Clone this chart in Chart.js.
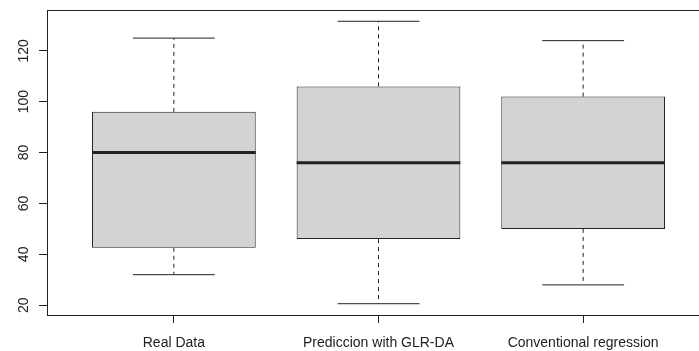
<!DOCTYPE html>
<html>
<head>
<meta charset="utf-8">
<script src="https://cdn.jsdelivr.net/npm/chart.js@4"></script>
<style>
  html, body { margin: 0; padding: 0; overflow: hidden; background: #fff; }
  #wrap { width: 712px; height: 351px; }
</style>
</head>
<body>
<div id="wrap"><canvas id="chart" width="712" height="351"></canvas></div>
<script>
// values
const categories = ['Real Data', 'Prediccion with GLR-DA', 'Conventional regression'];
const lowerWhisker = [32, 20.6, 28];
const lowerHinge = [42.6, 46, 50];
const medians = [80, 76, 76];
const upperHinge = [96, 106, 102];
const upperWhisker = [125, 131.6, 124];
const yTicks = [20, 40, 60, 80, 100, 120];

const BOX = 0.8; // box width in category units (R default)
const ink = '#222';

// R style axis range: data range padded by 4%
const lo = Math.min(...lowerWhisker), hi = Math.max(...upperWhisker);
const pad = (hi - lo) * 0.04;
const xPad = 3 * 0.04;

const gap = (x) => ({ x: x, y: null });

const boxes = categories.map((c, i) => ({ x: i + 1, y: [lowerHinge[i], upperHinge[i]] }));

const whiskers = [];
const caps = [];
const medianLines = [];
categories.forEach((c, i) => {
    const x = i + 1;
    whiskers.push({ x, y: upperHinge[i] }, { x, y: upperWhisker[i] }, gap(x),
                  { x, y: lowerHinge[i] }, { x, y: lowerWhisker[i] }, gap(x));
    caps.push({ x: x - BOX / 4, y: upperWhisker[i] }, { x: x + BOX / 4, y: upperWhisker[i] }, gap(x),
              { x: x - BOX / 4, y: lowerWhisker[i] }, { x: x + BOX / 4, y: lowerWhisker[i] }, gap(x));
    medianLines.push({ x: x - BOX / 2, y: medians[i] }, { x: x + BOX / 2, y: medians[i] }, gap(x));
});

// plot frame like bty="o"
const frame = {
    id: 'frame',
    afterDraw(chart) {
        const { ctx, chartArea: a } = chart;
        ctx.save();
        ctx.strokeStyle = ink;
        ctx.lineWidth = 1;
        ctx.strokeRect(Math.round(a.left) + 0.5, Math.round(a.top) + 0.5,
                       Math.round(a.right - a.left), Math.round(a.bottom - a.top));
        ctx.restore();
    }
};

const lineStyle = { type: 'line', pointRadius: 0, borderColor: ink, borderCapStyle: 'butt', spanGaps: false, fill: false };

new Chart(document.getElementById('chart'), {
    type: 'bar',
    data: {
        datasets: [
            { ...lineStyle, data: medianLines, borderWidth: 3, order: 0 },
            {
                type: 'bar', data: boxes, order: 1,
                backgroundColor: '#d3d3d3', borderColor: ink, borderWidth: 1, borderSkipped: false,
                categoryPercentage: 1, barPercentage: BOX
            },
            { ...lineStyle, data: whiskers, borderWidth: 1, borderDash: [4, 4], order: 2 },
            { ...lineStyle, data: caps, borderWidth: 1, order: 2 }
        ]
    },
    options: {
        responsive: false,
        animation: false,
        layout: { padding: { top: 10, right: 2, left: 0, bottom: 0 } },
        plugins: { legend: { display: false }, tooltip: { enabled: false } },
        scales: {
            x: {
                type: 'linear',
                offset: false,
                min: 1 - 0.5 - xPad,
                max: 3 + 0.5 + xPad,
                afterBuildTicks: (s) => { s.ticks = categories.map((c, i) => ({ value: i + 1 })); },
                afterFit: (s) => { s.height = 36; s.paddingLeft = 0; s.paddingRight = 0; },
                border: { display: false },
                grid: { offset: false, drawOnChartArea: false, drawTicks: true, tickLength: 8, color: ink },
                ticks: {
                    autoSkip: false, maxRotation: 0, padding: 12,
                    color: ink, font: { family: 'Liberation Sans, Arial', size: 14 },
                    callback: (v) => categories[v - 1]
                }
            },
            y: {
                min: lo - pad,
                max: hi + pad,
                afterBuildTicks: (s) => { s.ticks = yTicks.map(v => ({ value: v })); },
                afterFit: (s) => { s.width = 47; s.paddingTop = 0; s.paddingBottom = 0; },
                border: { display: false },
                grid: { drawOnChartArea: false, drawTicks: true, tickLength: 8, color: ink },
                ticks: {
                    minRotation: 90, maxRotation: 90, crossAlign: 'center', padding: 3,
                    color: ink, font: { family: 'Liberation Sans, Arial', size: 14 }
                }
            }
        }
    },
    plugins: [frame]
});
</script>
</body>
</html>
